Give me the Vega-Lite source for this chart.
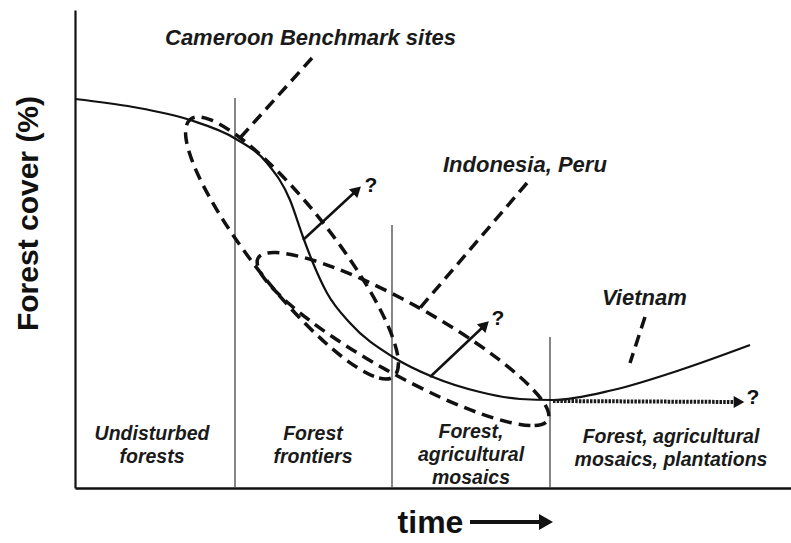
{
  "$schema": "https://vega.github.io/schema/vega-lite/v6.json",
  "width": 716,
  "height": 478,
  "autosize": {"type": "none"},
  "padding": {"left": 75, "top": 10, "right": 0, "bottom": 55},
  "background": "white",
  "config": {"view": {"stroke": null}, "font": "Liberation Sans"},
  "datasets": {
    "dividers": [
      {"x": 160, "y": 390, "y2": 0},
      {"x": 317, "y": 263, "y2": 0},
      {"x": 475, "y": 151, "y2": 0}
    ],
    "curve": [
      {"x": 0, "y": 389}, {"x": 58, "y": 381}, {"x": 115, "y": 368}, {"x": 161, "y": 349},
      {"x": 192, "y": 325}, {"x": 215, "y": 288}, {"x": 228, "y": 251}, {"x": 238, "y": 225},
      {"x": 252, "y": 195}, {"x": 275, "y": 165}, {"x": 318, "y": 131}, {"x": 358, "y": 111},
      {"x": 405, "y": 96}, {"x": 445, "y": 89}, {"x": 478, "y": 88}, {"x": 538, "y": 98},
      {"x": 605, "y": 118}, {"x": 675, "y": 143}
    ],
    "ellipses": [
      {"group": "Cameroon", "order": 0, "x": 318.7, "y": 111.3},
      {"group": "Cameroon", "order": 1, "x": 299.0, "y": 111.6},
      {"group": "Cameroon", "order": 2, "x": 266.7, "y": 131.5},
      {"group": "Cameroon", "order": 3, "x": 226.9, "y": 167.8},
      {"group": "Cameroon", "order": 4, "x": 185.6, "y": 215.2},
      {"group": "Cameroon", "order": 5, "x": 149.1, "y": 266.4},
      {"group": "Cameroon", "order": 6, "x": 122.9, "y": 313.5},
      {"group": "Cameroon", "order": 7, "x": 111.0, "y": 349.4},
      {"group": "Cameroon", "order": 8, "x": 115.3, "y": 368.7},
      {"group": "Cameroon", "order": 9, "x": 135.0, "y": 368.4},
      {"group": "Cameroon", "order": 10, "x": 167.3, "y": 348.5},
      {"group": "Cameroon", "order": 11, "x": 207.1, "y": 312.2},
      {"group": "Cameroon", "order": 12, "x": 248.4, "y": 264.8},
      {"group": "Cameroon", "order": 13, "x": 284.9, "y": 213.6},
      {"group": "Cameroon", "order": 14, "x": 311.1, "y": 166.5},
      {"group": "Cameroon", "order": 15, "x": 323.0, "y": 130.6},
      {"group": "Indonesia", "order": 0, "x": 472.9, "y": 68.0},
      {"group": "Indonesia", "order": 1, "x": 455.4, "y": 62.5},
      {"group": "Indonesia", "order": 2, "x": 418.3, "y": 70.1},
      {"group": "Indonesia", "order": 3, "x": 367.7, "y": 89.7},
      {"group": "Indonesia", "order": 4, "x": 310.9, "y": 118.4},
      {"group": "Indonesia", "order": 5, "x": 256.7, "y": 151.7},
      {"group": "Indonesia", "order": 6, "x": 213.5, "y": 184.7},
      {"group": "Indonesia", "order": 7, "x": 187.6, "y": 212.1},
      {"group": "Indonesia", "order": 8, "x": 183.1, "y": 230.0},
      {"group": "Indonesia", "order": 9, "x": 200.6, "y": 235.5},
      {"group": "Indonesia", "order": 10, "x": 237.7, "y": 227.9},
      {"group": "Indonesia", "order": 11, "x": 288.3, "y": 208.3},
      {"group": "Indonesia", "order": 12, "x": 345.1, "y": 179.6},
      {"group": "Indonesia", "order": 13, "x": 399.3, "y": 146.3},
      {"group": "Indonesia", "order": 14, "x": 442.5, "y": 113.3},
      {"group": "Indonesia", "order": 15, "x": 468.4, "y": 85.9}
    ],
    "leaders": [
      {"group": "Cameroon", "order": 0, "x": 237, "y": 430},
      {"group": "Cameroon", "order": 1, "x": 165, "y": 350},
      {"group": "Indonesia", "order": 0, "x": 452, "y": 305},
      {"group": "Indonesia", "order": 1, "x": 345, "y": 180},
      {"group": "Vietnam", "order": 0, "x": 570, "y": 171},
      {"group": "Vietnam", "order": 1, "x": 555, "y": 125}
    ],
    "arrows": [
      {"group": "a1", "order": 0, "x": 228, "y": 248},
      {"group": "a1", "order": 1, "x": 281, "y": 297},
      {"group": "a2", "order": 0, "x": 355, "y": 111},
      {"group": "a2", "order": 1, "x": 409, "y": 162}
    ],
    "timeArrow": [
      {"group": "time", "order": 0, "x": 395, "y": -34},
      {"group": "time", "order": 1, "x": 466, "y": -34}
    ],
    "dotted": [
      {"group": "a3", "order": 0, "x": 478, "y": 87},
      {"group": "a3", "order": 1, "x": 660, "y": 86}
    ],
    "heads": [
      {"x": 282, "y": 298, "angle": 47, "shape": "triangle-up"},
      {"x": 410, "y": 163, "angle": 46, "shape": "triangle-up"},
      {"x": 664, "y": 86, "angle": 90, "shape": "triangle-up"}
    ],
    "timeHead": [
      {"x": 471, "y": -34, "angle": 90, "shape": "triangle-up"}
    ],
    "questions": [
      {"x": 296, "y": 302, "text": "?"},
      {"x": 423, "y": 169, "text": "?"},
      {"x": 678, "y": 90, "text": "?"}
    ],
    "notes": [
      {"x": 90, "y": 450, "text": "Cameroon Benchmark sites"},
      {"x": 368, "y": 323, "text": "Indonesia, Peru"},
      {"x": 527, "y": 190, "text": "Vietnam"}
    ],
    "stages": [
      {"x": 77, "y": 63, "text": "Undisturbed\nforests"},
      {"x": 238, "y": 63, "text": "Forest\nfrontiers"},
      {"x": 396, "y": 65, "text": "Forest,\nagricultural\nmosaics"},
      {"x": 596, "y": 60, "text": "Forest, agricultural\nmosaics, plantations"}
    ]
  },
  "encoding": {
    "x": {
      "field": "x", "type": "quantitative",
      "scale": {"domain": [0, 716], "nice": false, "zero": false},
      "axis": {
        "title": "time", "domain": true, "domainColor": "#111", "domainWidth": 2.5,
        "ticks": false, "labels": false, "grid": false,
        "titleFont": "Liberation Sans", "titleFontSize": 32, "titleFontWeight": "bold", "titleColor": "#111",
        "titleX": 355, "titleY": 44, "titleAlign": "center", "titleBaseline": "alphabetic"
      }
    },
    "y": {
      "field": "y", "type": "quantitative",
      "scale": {"domain": [0, 478], "nice": false, "zero": false},
      "axis": {
        "title": "Forest cover (%)", "domain": true, "domainColor": "#111", "domainWidth": 2.2,
        "ticks": false, "labels": false, "grid": false,
        "titleFont": "Liberation Sans", "titleFontSize": 30, "titleFontWeight": "bold", "titleColor": "#111",
        "titleAngle": 270, "titleX": -38, "titleY": 203, "titleAlign": "center", "titleBaseline": "alphabetic"
      }
    }
  },
  "layer": [
    {
      "data": {"name": "dividers"},
      "mark": {"type": "rule", "color": "#444", "strokeWidth": 1.3},
      "encoding": {"y2": {"field": "y2"}}
    },
    {
      "data": {"name": "curve"},
      "mark": {"type": "line", "interpolate": "monotone", "color": "#111", "strokeWidth": 2.2},
      "encoding": {}
    },
    {
      "data": {"name": "ellipses"},
      "mark": {"type": "line", "interpolate": "cardinal-closed", "color": "#111", "strokeWidth": 3.5, "strokeDash": [12, 7]},
      "encoding": {"detail": {"field": "group"}, "order": {"field": "order"}}
    },
    {
      "data": {"name": "leaders"},
      "mark": {"type": "line", "color": "#111", "strokeWidth": 3.5, "strokeDash": [12, 7]},
      "encoding": {"detail": {"field": "group"}, "order": {"field": "order"}}
    },
    {
      "data": {"name": "arrows"},
      "mark": {"type": "line", "color": "#111", "strokeWidth": 2.5},
      "encoding": {"detail": {"field": "group"}, "order": {"field": "order"}}
    },
    {
      "data": {"name": "timeArrow"},
      "mark": {"type": "line", "color": "#111", "strokeWidth": 4},
      "encoding": {"detail": {"field": "group"}, "order": {"field": "order"}}
    },
    {
      "data": {"name": "dotted"},
      "mark": {"type": "line", "color": "#1a1a1a", "strokeWidth": 4, "strokeDash": [2.5, 1.2]},
      "encoding": {"detail": {"field": "group"}, "order": {"field": "order"}}
    },
    {
      "data": {"name": "heads"},
      "mark": {"type": "point", "filled": true, "color": "#111", "size": 150, "opacity": 1},
      "encoding": {
        "shape": {"field": "shape", "type": "nominal", "scale": null},
        "angle": {"field": "angle", "type": "quantitative", "scale": null}
      }
    },
    {
      "data": {"name": "timeHead"},
      "mark": {"type": "point", "filled": true, "color": "#111", "size": 260, "opacity": 1},
      "encoding": {
        "shape": {"field": "shape", "type": "nominal", "scale": null},
        "angle": {"field": "angle", "type": "quantitative", "scale": null}
      }
    },
    {
      "data": {"name": "questions"},
      "mark": {"type": "text", "font": "Liberation Sans", "fontSize": 21, "fontWeight": "bold", "color": "#111", "align": "center", "baseline": "middle"},
      "encoding": {"text": {"field": "text"}}
    },
    {
      "data": {"name": "notes"},
      "mark": {"type": "text", "font": "Liberation Sans", "fontSize": 22, "fontWeight": "bold", "fontStyle": "italic", "color": "#1a1a1a", "align": "left", "baseline": "middle"},
      "encoding": {"text": {"field": "text"}}
    },
    {
      "data": {"name": "stages"},
      "mark": {"type": "text", "font": "Liberation Sans", "fontSize": 19.5, "fontWeight": "bold", "fontStyle": "italic", "color": "#1a1a1a", "align": "center", "baseline": "top", "lineBreak": "\n", "lineHeight": 23},
      "encoding": {"text": {"field": "text"}}
    }
  ]
}
